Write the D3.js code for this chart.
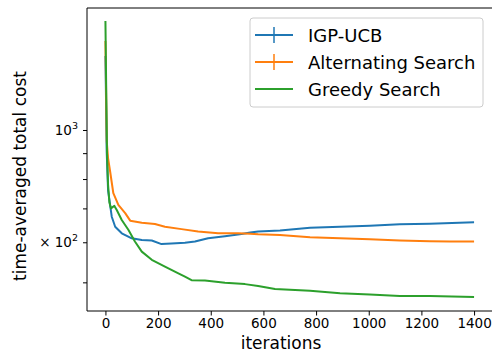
<!DOCTYPE html>
<html>
<head>
<meta charset="utf-8">
<script src="https://cdn.jsdelivr.net/npm/d3@7"></script>
<style>
  html, body { margin: 0; padding: 0; background: #fff; }
  svg { display: block; font-family: "DejaVu Sans", sans-serif; }
</style>
</head>
<body>
<svg id="chart" width="492" height="356"></svg>
<script>
// ---- data ----
const seriesNames = ["IGP-UCB", "Alternating Search", "Greedy Search"];
const colors = ["#1f77b4", "#ff7f0e", "#2ca02c"];

const igpIter = [0, 5, 10, 24, 37, 62, 100, 138, 176, 213, 251, 302, 340, 390, 454, 517, 550, 580, 663, 777, 891, 1004, 1118, 1232, 1400];
const igpCost = [1400, 900, 760, 674, 644, 625, 611, 606, 605, 595, 597, 599, 602, 611, 617, 623, 627, 630, 633, 641, 644, 647, 651, 653, 657];

const altIter = [0, 5, 10, 18, 30, 49, 75, 94, 138, 188, 226, 289, 352, 428, 504, 550, 580, 663, 777, 891, 1004, 1118, 1232, 1308, 1400];
const altCost = [1500, 950, 880, 827, 750, 711, 685, 662, 656, 652, 644, 637, 630, 625, 625, 624, 622, 620, 614, 611, 608, 605, 603, 602, 602];

const grdIter = [0, 3, 6, 10, 15, 21, 27, 34, 43, 62, 87, 112, 138, 176, 226, 277, 302, 327, 378, 454, 530, 580, 644, 777, 891, 1004, 1118, 1232, 1400];
const grdCost = [1642, 1200, 900, 780, 720, 700, 704, 708, 695, 664, 635, 602, 575, 554, 537, 521, 513, 505, 504, 499, 496, 492, 485, 481, 476, 473, 470, 470, 468];

const xTicks = [0, 200, 400, 600, 800, 1000, 1200, 1400];
const yMinorTicks = [500, 600, 700, 800, 900];
const yMajorTicks = [1000];
const yTickLabels = [{v: 1000, base: "10", sup: "3", pre: ""}, {v: 600, base: "10", sup: "2", pre: "\u00d7 "}];

// ---- layout ----
const svg = d3.select("#chart");
const pL = 87, pR = 492.5, pT = 8, pB = 311;
const x = d3.scaleLinear().domain([-70, 1470]).range([pL, pR]);
const y = d3.scaleLog().domain([438.9, 1742]).range([pB, pT]);

// lines
const series = [
  {iter: igpIter, cost: igpCost},
  {iter: altIter, cost: altCost},
  {iter: grdIter, cost: grdCost}
];
const line = d3.line().x(d => x(d[0])).y(d => y(d[1]));
svg.append("clipPath").attr("id", "clip").append("rect")
  .attr("x", pL).attr("y", pT).attr("width", pR - pL).attr("height", pB - pT);
series.forEach((s, i) => {
  const pts = s.iter.map((t, k) => [t, s.cost[k]]);
  svg.append("path").datum(pts)
    .attr("d", line)
    .attr("fill", "none")
    .attr("stroke", colors[i])
    .attr("stroke-width", 2)
    .attr("stroke-linejoin", "round")
    .attr("clip-path", "url(#clip)");
});

// axes spines (right spine lies beyond the visible edge)
const spine = svg.append("g").attr("stroke", "#000").attr("stroke-width", 1).attr("fill", "none");
spine.append("line").attr("x1", pL).attr("x2", pL).attr("y1", pT).attr("y2", pB);
spine.append("line").attr("x1", pL).attr("x2", pR).attr("y1", pB).attr("y2", pB);
spine.append("line").attr("x1", pL).attr("x2", pR).attr("y1", pT).attr("y2", pT);

// x axis
const xAxis = d3.axisBottom(x).tickValues(xTicks).tickSize(4.5).tickPadding(3).tickFormat(d3.format("d"));
const gx = svg.append("g").attr("transform", `translate(0,${pB})`).call(xAxis);
gx.select(".domain").remove();
gx.selectAll("text").attr("font-size", 13.5).attr("font-family", "DejaVu Sans").attr("fill", "#000");
gx.selectAll("line").attr("stroke", "#000");

// y axis ticks
const yAxis = d3.axisLeft(y).tickValues(yMajorTicks.concat(yMinorTicks)).tickSize(4).tickFormat("");
const gy = svg.append("g").attr("transform", `translate(${pL},0)`).call(yAxis);
gy.select(".domain").remove();
gy.selectAll("line").attr("stroke", "#000");

// y tick labels
yTickLabels.forEach(l => {
  const t = svg.append("text")
    .attr("x", 78).attr("y", y(l.v))
    .attr("text-anchor", "end")
    .attr("dominant-baseline", "central")
    .attr("font-size", 13.5).attr("fill", "#000");
  t.append("tspan").text(l.pre + l.base);
  t.append("tspan").attr("font-size", 9.5).attr("dy", -5).text(l.sup);
});

// axis labels
svg.append("text").attr("x", 281).attr("y", 343)
  .attr("text-anchor", "middle").attr("dominant-baseline", "central")
  .attr("font-size", 17).attr("fill", "#000").text("iterations");
svg.append("text").attr("transform", "translate(20,176) rotate(-90)")
  .attr("text-anchor", "middle").attr("dominant-baseline", "central")
  .attr("font-size", 17).attr("fill", "#000").text("time-averaged total cost");

// legend
const lg = svg.append("g");
lg.append("rect").attr("x", 250).attr("y", 18).attr("width", 233).attr("height", 89).attr("rx", 3)
  .attr("fill", "#fff").attr("fill-opacity", 0.8).attr("stroke", "#cccccc").attr("stroke-width", 1);
const rowY = [35, 62, 89];
seriesNames.forEach((name, i) => {
  const g = lg.append("g");
  g.append("line").attr("x1", 255).attr("x2", 293).attr("y1", rowY[i]).attr("y2", rowY[i])
    .attr("stroke", colors[i]).attr("stroke-width", 2);
  if (i < 2) {
    g.append("line").attr("x1", 274).attr("x2", 274).attr("y1", rowY[i] - 8).attr("y2", rowY[i] + 8)
      .attr("stroke", colors[i]).attr("stroke-width", 1.5);
  }
  g.append("text").attr("x", 308).attr("y", rowY[i]).attr("dominant-baseline", "central")
    .attr("font-size", 18).attr("fill", "#000").text(name);
});
</script>
</body>
</html>
